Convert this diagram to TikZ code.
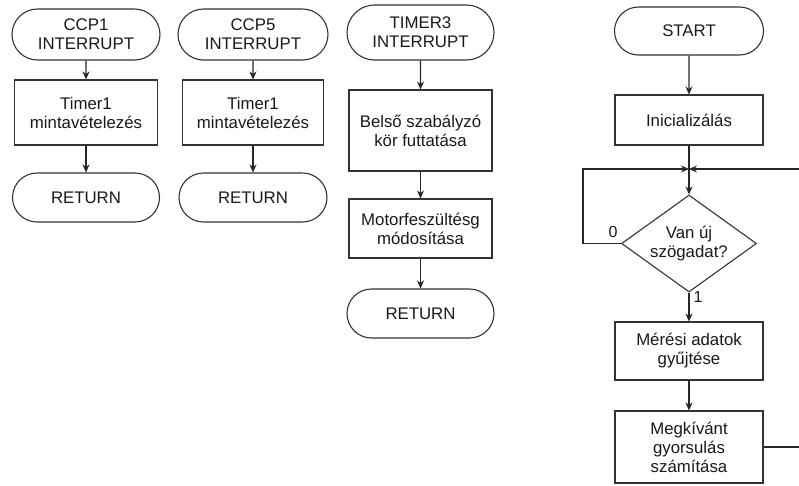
\documentclass[tikz,border=0pt]{standalone}
\usepackage{fontspec}
\setmainfont{Liberation Sans}
\usetikzlibrary{shapes.geometric,shapes.misc,arrows.meta}

\begin{document}
\begin{tikzpicture}[x=1pt,y=-1pt,
  line width=1.1pt,
  every node/.style={font=\fontsize{16.8}{19}\selectfont, text=black!90, align=center, inner sep=0pt},
  term/.style n args={2}{draw=black!80, rounded rectangle, minimum width=#1pt, minimum height=#2pt},
  proc/.style n args={2}{draw=black!80, rectangle, minimum width=#1pt, minimum height=#2pt},
  cond/.style n args={2}{draw=black!80, diamond, aspect=1.39, minimum width=#1pt, minimum height=#2pt},
  lbl/.style={font=\fontsize{16}{18}\selectfont},
  flow/.style={draw=black!85, -{Stealth[length=8pt,width=7pt]}},
  wire/.style={draw=black!85}]

\useasboundingbox (0,0) rectangle (799,485);

% CCP1 interrupt routine
\node[term={148}{51}] (c1t) at (86,34.5) {CCP1\\INTERRUPT};
\node[proc={143}{65}] (c1b) at (86,112.5) {Timer1\\mintavételezés};
\node[term={147}{49}] (c1r) at (86,197.5) {RETURN};
\draw[flow] (c1t) -- (c1b);
\draw[flow] (c1b) -- (c1r);

% CCP5 interrupt routine
\node[term={150}{51}] (c5t) at (253,34.5) {CCP5\\INTERRUPT};
\node[proc={141}{65}] (c5b) at (253,112.5) {Timer1\\mintavételezés};
\node[term={148}{49}] (c5r) at (253,197.5) {RETURN};
\draw[flow] (c5t) -- (c5b);
\draw[flow] (c5b) -- (c5r);

% TIMER3 interrupt routine
\node[term={147}{55}] (t3t) at (420.5,32.5) {TIMER3\\INTERRUPT};
\node[proc={143}{81}] (t3a) at (420.5,130.5) {Belső szabályzó\\kör futtatása};
\node[proc={143}{59}] (t3b) at (420.5,228.5) {Motorfeszültésg\\módosítása};
\node[term={147}{49}] (t3r) at (420.5,313.5) {RETURN};
\draw[flow] (t3t) -- (t3a);
\draw[flow] (t3a) -- (t3b);
\draw[flow] (t3b) -- (t3r);

% main program
\node[term={149}{48}] (st) at (689,31) {START};
\node[proc={148}{50}] (ini) at (689,120) {Inicializálás};
\node[cond={135}{97}] (dec) at (689,243.5) {Van új\\szögadat?};
\node[proc={148}{58}] (mer) at (689,351) {Mérési adatok\\gyűjtése};
\node[proc={148}{72}] (meg) at (689,447) {Megkívánt\\gyorsulás\\számítása};

\coordinate (jn) at (689,169);
\coordinate (rtop) at (799,169);
\coordinate (rbot) at (799,447);

\draw[flow] (st) -- (ini);
\draw[flow] (ini) -- (dec);
\draw[flow] (dec.west) -- ++(-38,0) |- (jn);
\draw[flow] (rtop) -- (jn);
\draw[flow] (dec) -- (mer);
\draw[flow] (mer) -- (meg);
\draw[wire] (meg.east) -- (rbot);

\node[lbl] (l0) at (613,232) {0};
\node[lbl] (l1) at (698,297) {1};
\end{tikzpicture}
\end{document}
